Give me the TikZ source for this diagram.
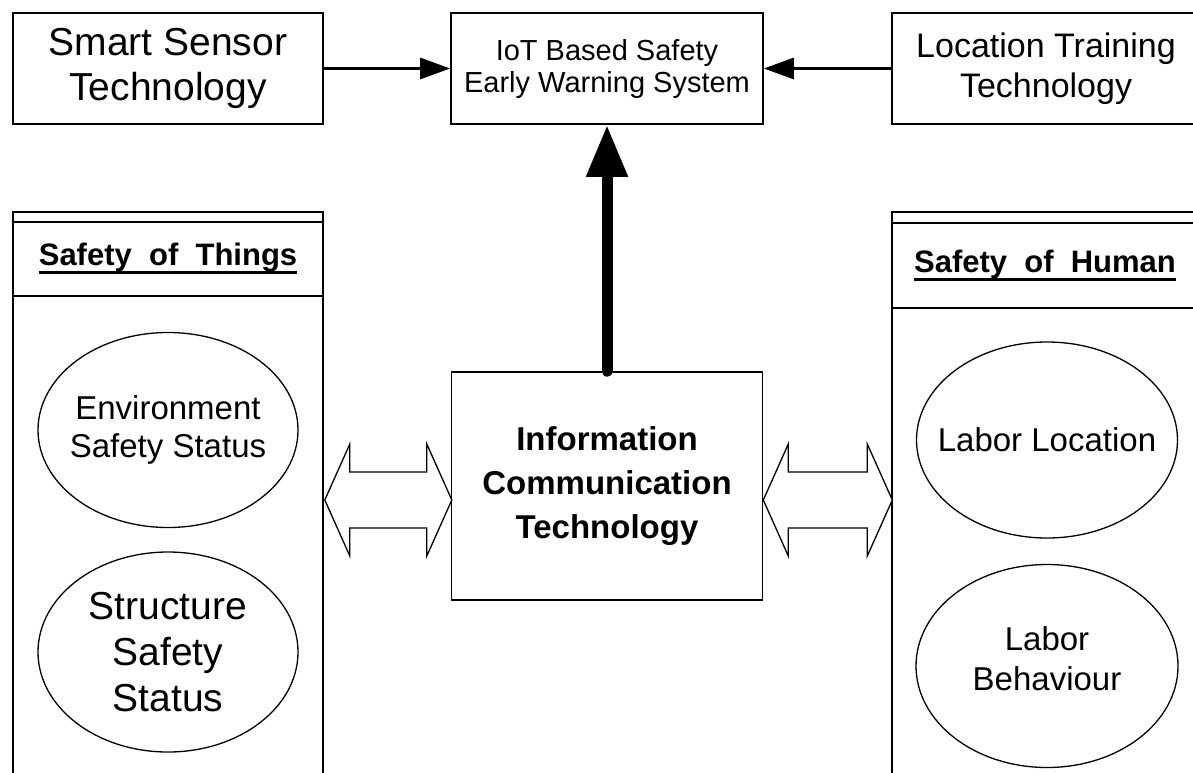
\documentclass[tikz,border=0pt]{standalone}
\usepackage{fontspec}
\setmainfont{Liberation Sans}
\usetikzlibrary{arrows.meta,shapes.geometric,calc}
\newcommand{\thickul}[1]{\leavevmode\setbox0=\hbox{#1}\rlap{\rule[-8.5pt]{\wd0}{2.8pt}}\box0}
\tikzset{box/.style={draw, line width=1.6pt, align=center, inner sep=0pt}}
\tikzset{oval/.style={draw, ellipse, line width=1.3pt, align=center, inner xsep=-40pt, inner ysep=-20pt}}
\tikzset{link/.style={line width=3pt, -{Triangle[length=30pt, width=21pt]}}}
\tikzset{mainlink/.style={line width=11pt, line cap=round, -{Triangle[length=52pt, width=39pt]}}}
\tikzset{twoway/.style={draw, line width=1.3pt, fill=white, line join=miter}}

\begin{document}
\begin{tikzpicture}[x=1pt, y=-1pt]
        \useasboundingbox (0,0) rectangle (1193,772);
        \clip (0,0) rectangle (1193,772);

        % top row
        \node[box, minimum width=310pt, minimum height=111pt, font=\fontsize{39}{45}\selectfont] (Sensor) at (168,68.5)
        {Smart Sensor\\Technology};
        \node[box, minimum width=312pt, minimum height=111pt, font=\fontsize{29}{32}\selectfont] (Iot) at (607,68.5)
        {IoT Based Safety\\Early Warning System};
        \node[box, minimum width=308pt, minimum height=111pt, font=\fontsize{34}{40}\selectfont] (Loc) at (1046,68.5)
        {Location Training\\Technology};

        \draw [link] (Sensor) -- (Iot);
        \draw [link] (Loc) -- (Iot);

        % side panels
        \node[box, minimum width=310pt, minimum height=600pt, anchor=north] (Things) at (168,211) {};
        \node[box, minimum width=308pt, minimum height=600pt, anchor=north] (Human) at (1046,211) {};
        \draw [line width=1.6pt] ([yshift=-11pt]Things.north west) -- ([yshift=-11pt]Things.north east);
        \draw [line width=1.6pt] ([yshift=-85pt]Things.north west) -- ([yshift=-85pt]Things.north east);
        \draw [line width=1.6pt] ([yshift=-12pt]Human.north west) -- ([yshift=-12pt]Human.north east);
        \draw [line width=1.6pt] ([yshift=-97pt]Human.north west) -- ([yshift=-97pt]Human.north east);

        \node[anchor=base, inner sep=0pt, font=\bfseries\fontsize{31}{36}\selectfont] (ThingsHead) at (168,265)
        {\thickul{Safety\ \ of\ \ Things}};
        \node[anchor=base, inner sep=0pt, font=\bfseries\fontsize{31}{36}\selectfont] (HumanHead) at (1045,272)
        {\thickul{Safety\ \ of\ \ Human}};

        \node[oval, minimum width=260pt, minimum height=195pt, font=\fontsize{33}{38}\selectfont] (Env) at (168,430)
        {Environment\\Safety Status};
        \node[oval, minimum width=260pt, minimum height=200pt, font=\fontsize{39}{46}\selectfont] (Struct) at (168,652)
        {Structure\\Safety\\Status};
        \node[oval, minimum width=261pt, minimum height=196pt, font=\fontsize{33}{38}\selectfont] (LabLoc) at (1047,440)
        {Labor Location};
        \node[oval, minimum width=262pt, minimum height=203pt, font=\fontsize{33}{40}\selectfont] (LabBeh) at (1047,666)
        {Labor\\Behaviour\rule[-14pt]{0pt}{0pt}};

        % centre
        \node[box, minimum width=311pt, minimum height=228pt, font=\bfseries\fontsize{33}{44}\selectfont] (Ict) at (607,486)
        {Information\\Communication\\Technology};

        \draw [mainlink] (Ict) -- (Iot);

        \coordinate (Lw) at ($(Things.east |- Ict.west)+(1,14)$);
        \coordinate (Rw) at ($(Ict.east)+(0,14)$);
        \draw [twoway] (Lw) -- ++(25,-56) -- ++(0,28) -- ++(77,0) -- ++(0,-28) -- ++(25,56)
        -- ++(-25,56) -- ++(0,-28) -- ++(-77,0) -- ++(0,28) -- cycle;
        \draw [twoway] (Rw) -- ++(25,-56) -- ++(0,28) -- ++(79,0) -- ++(0,-28) -- ++(25,56)
        -- ++(-25,56) -- ++(0,-28) -- ++(-79,0) -- ++(0,28) -- cycle;

\end{tikzpicture}
\end{document}
